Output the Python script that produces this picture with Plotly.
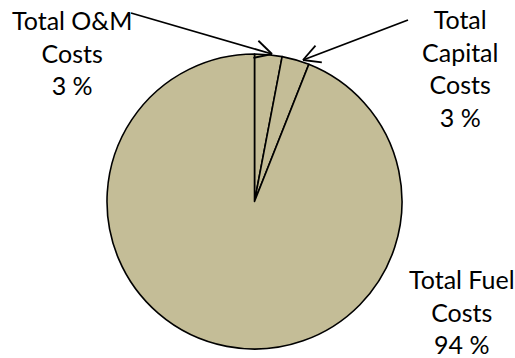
import math
import plotly.graph_objects as go

# Cost breakdown (percent of total)
categories = ["Total O&M<br>Costs", "Total<br>Capital<br>Costs", "Total Fuel<br>Costs"]
shares = [3, 3, 94]

W, H = 515, 358
FILL = "#C4BD97"
FONT = dict(family="Lato, Open Sans, sans-serif", size=25, color="#000000")


def paper(x, y):
    """Convert pixel position (from top-left) into paper coordinates."""
    return x / W, 1 - y / H


# pie placement (pixels)
cx, cy, r = 254.5, 201.5, 147.5

fig = go.Figure(
    go.Pie(
        labels=categories,
        values=shares,
        sort=False,
        direction="clockwise",
        rotation=0,
        textinfo="none",
        hoverinfo="label+percent",
        marker=dict(colors=[FILL] * len(shares), line=dict(color="#000000", width=1.6)),
        domain=dict(x=[(cx - r) / W, (cx + r) / W], y=[1 - (cy + r) / H, 1 - (cy - r) / H]),
        showlegend=False,
    )
)

# label positions: (center x, top y) in pixels
label_pos = [(72, 3), (460, 2), (462, 262)]
for (lx, ly), name, val in zip(label_pos, categories, shares):
    px_, py_ = paper(lx, ly)
    fig.add_annotation(
        x=px_, y=py_, xref="paper", yref="paper",
        xanchor="center", yanchor="top",
        text=f"{name}<br>{val} %", showarrow=False,
        font=FONT, align="center",
    )

# leader arrows with open heads: (start, tip) in pixels
arrows = [((131, 13), (272, 54)), ((408, 20), (303, 60))]
shapes = []
head_len, head_ang = 19, math.radians(28)
for (x0, y0), (x1, y1) in arrows:
    line = dict(color="#000000", width=1.8)
    a0, b0 = paper(x0, y0)
    a1, b1 = paper(x1, y1)
    shapes.append(dict(type="line", xref="paper", yref="paper", x0=a0, y0=b0, x1=a1, y1=b1, line=line))
    ang = math.atan2(y0 - y1, x0 - x1)
    for s in (-1, 1):
        hx = x1 + head_len * math.cos(ang + s * head_ang)
        hy = y1 + head_len * math.sin(ang + s * head_ang)
        c0, d0 = paper(hx, hy)
        shapes.append(dict(type="line", xref="paper", yref="paper", x0=c0, y0=d0, x1=a1, y1=b1, line=line))

fig.update_layout(
    width=W, height=H,
    margin=dict(l=0, r=0, t=0, b=0),
    paper_bgcolor="#FFFFFF",
    plot_bgcolor="#FFFFFF",
    shapes=shapes,
)

fig.write_html("out.html")
